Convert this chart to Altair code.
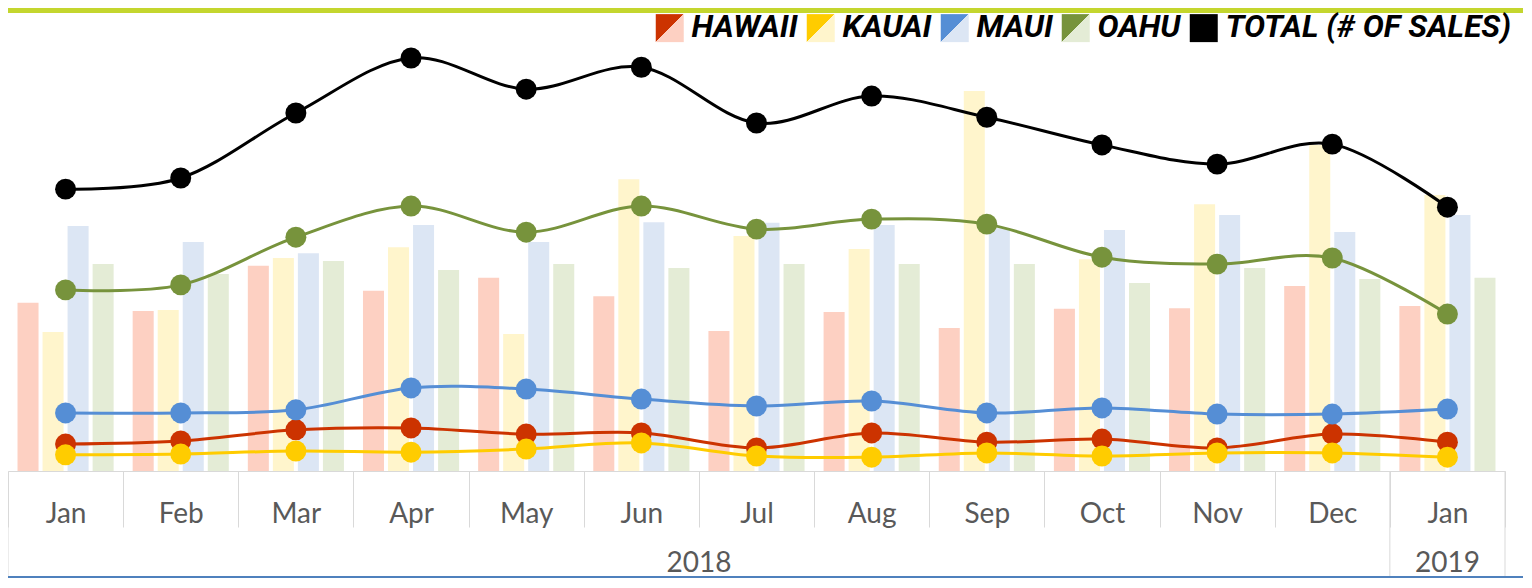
import altair as alt
import pandas as pd

# ---------------- data ----------------
periods = ["Jan 2018", "Feb 2018", "Mar 2018", "Apr 2018", "May 2018", "Jun 2018",
           "Jul 2018", "Aug 2018", "Sep 2018", "Oct 2018", "Nov 2018", "Dec 2018",
           "Jan 2019"]
island_names = ["HAWAII", "KAUAI", "MAUI", "OAHU"]
total_label = "TOTAL (# OF SALES)"
series_codes = ["H", "K", "M", "O", "T"]

# bars (median price, $K)
price_hawaii = [477, 454, 582, 511, 548, 496, 397, 451, 406, 460, 462, 525, 468]
price_kauai = [394, 457, 604, 635, 389, 828, 667, 630, 1078, 601, 757, 925, 783]
price_maui = [695, 650, 618, 698, 650, 706, 704, 698, 689, 684, 726, 678, 726]
price_oahu = [587, 559, 596, 570, 587, 576, 587, 587, 587, 533, 576, 545, 548]

# lines (number of sales)
sales_hawaii = [70, 78, 107, 112, 96, 99, 60, 99, 75, 83, 60, 96, 75]
sales_kauai = [42, 44, 52, 49, 57, 73, 39, 36, 47, 39, 47, 47, 36]
sales_maui = [151, 151, 159, 216, 213, 187, 169, 182, 151, 164, 148, 148, 161]
sales_oahu = [471, 484, 608, 689, 621, 689, 629, 655, 642, 556, 538, 554, 408]
sales_total = [733, 762, 931, 1074, 993, 1050, 905, 975, 920, 848, 798, 850, 686]

dark_colors = ["#CC3300", "#FFCC00", "#558ED5", "#77933C", "#000000"]
light_colors = ["#FDD0C2", "#FFF5CC", "#DCE6F4", "#E4ECD6", "#000000"]

# ---------------- tables ----------------
series_names = island_names + [total_label]
price_series = [price_hawaii, price_kauai, price_maui, price_oahu]
bar_rows = []
for name, vals in zip(island_names, price_series):
    for p, v in zip(periods, vals):
        bar_rows.append({"period": p, "island": name, "price": v})
bar_df = pd.DataFrame(bar_rows)

sales_series = [sales_hawaii, sales_kauai, sales_maui, sales_oahu, sales_total]
line_rows = []
for name, code, vals in zip(series_names, series_codes, sales_series):
    for p, v in zip(periods, vals):
        line_rows.append({"period": p, "series": name, "code": code, "sales": v})
line_df = pd.DataFrame(line_rows)

W, H = 1497, 423
BOTTOM = 107
RIGHT = 18

x_scale = alt.Scale(domain=periods, paddingInner=0, paddingOuter=0)
x_axis = alt.Axis(title=None,
                  labelExpr="isValid(datum.value) ? split(datum.value, ' ')[0] : ''",
                  labelAngle=0, labelFont="Lato", labelFontSize=28, labelColor="#595959",
                  labelBaseline="alphabetic", labelPadding=-5,
                  tickBand="extent", tickSize=56, tickColor="#D9D9D9", tickWidth=1,
                  domainColor="#D9D9D9", domainWidth=1, grid=False)


def xenc(**kw):
    return alt.X("period:N", scale=x_scale, axis=x_axis, **kw)


def pick(values):
    expr = "'%s'" % values[-1]
    for code, v in reversed(list(zip(series_codes[:-1], values[:-1]))):
        expr = "(datum.value == '%s' ? '%s' : %s)" % (code, v, expr)
    return expr


D = pick(dark_colors)
L = pick(light_colors)
gradient_expr = ("{gradient: 'linear', x1: 0, y1: 0, x2: 1, y2: 1, stops: ["
                 "{offset: 0, color: %s}, {offset: 0.5, color: %s}, "
                 "{offset: 0.5, color: %s}, {offset: 1, color: %s}]}" % (D, D, L, L))

legend = alt.Legend(orient="none", legendX=646, legendY=-36, direction="horizontal",
                    title=None, symbolType="square", symbolSize=784, symbolStrokeWidth=0,
                    symbolFillColor=alt.ExprRef(expr=gradient_expr),
                    labelExpr=pick(series_names),
                    labelFont="Roboto", labelFontSize=31.5, labelFontStyle="italic",
                    labelFontWeight="bold", labelColor="black", labelOffset=6,
                    columnPadding=7, labelLimit=400, padding=0)

bars = alt.Chart(bar_df).mark_bar().encode(
    x=xenc(),
    xOffset=alt.XOffset("island:N", scale=alt.Scale(domain=island_names, paddingInner=0.16, paddingOuter=0.38)),
    y=alt.Y("price:Q", scale=alt.Scale(domain=[0, 1200], nice=False, zero=True), axis=None),
    color=alt.Color("island:N", scale=alt.Scale(domain=island_names, range=light_colors[:4]), legend=None),
)

y_sales = alt.Y("sales:Q", scale=alt.Scale(domain=[0, 1100], nice=False, zero=True), axis=None)

lines = alt.Chart(line_df).mark_line(interpolate="cardinal", strokeWidth=3).encode(
    x=xenc(),
    y=y_sales,
    stroke=alt.Stroke("series:N", scale=alt.Scale(domain=series_names, range=dark_colors), legend=None),
)

points = alt.Chart(line_df).mark_point(filled=True, size=440).encode(
    x=xenc(),
    y=y_sales,
    fill=alt.Fill("series:N", scale=alt.Scale(domain=series_names, range=dark_colors), legend=None),
    opacity=alt.Opacity("code:N", scale=alt.Scale(domain=series_codes, range=[1, 1, 1, 1, 1]),
                        legend=legend),
)

sep_df = pd.DataFrame({"period": ["Jan 2018", "Jan 2019"]})
year_seps = alt.Chart(sep_df).mark_rule(color="#D9D9D9", strokeWidth=1).encode(
    x=xenc(bandPosition=0), y=alt.value(H), y2=alt.value(H + BOTTOM))
end_df = pd.DataFrame({"period": ["Jan 2019"]})
end_sep = alt.Chart(end_df).mark_rule(color="#D9D9D9", strokeWidth=1).encode(
    x=xenc(bandPosition=1), y=alt.value(H), y2=alt.value(H + BOTTOM))

y2018 = alt.Chart(pd.DataFrame({"period": ["Jul 2018"], "label": ["2018"]})).mark_text(
    font="Lato", fontSize=28, color="#595959", align="center", baseline="alphabetic").encode(
    x=xenc(bandPosition=0), y=alt.value(H + 101), text="label:N")
y2019 = alt.Chart(pd.DataFrame({"period": ["Jan 2019"], "label": ["2019"]})).mark_text(
    font="Lato", fontSize=28, color="#595959", align="center", baseline="alphabetic").encode(
    x=xenc(bandPosition=0.5), y=alt.value(H + 101), text="label:N")

one = pd.DataFrame({"k": [0]})
stripe = alt.Chart(one).mark_rule(color="#C4D62E", strokeWidth=5).encode(
    x=alt.value(0), x2=alt.value(W + RIGHT), y=alt.value(-37.5))
bottom_line = alt.Chart(one).mark_rule(color="#4F81BD", strokeWidth=2).encode(
    x=alt.value(0), x2=alt.value(W + RIGHT), y=alt.value(H + 106))

chart = alt.layer(bars, lines, points, year_seps, end_sep, y2018, y2019, stripe, bottom_line).resolve_scale(
    y="independent"
).properties(
    width=W, height=H,
    autosize=alt.AutoSizeParams(type="none"),
    padding={"left": 0, "top": 40, "right": RIGHT, "bottom": BOTTOM},
    background="white",
).configure_view(stroke=None)

chart.save("out.html", embed_options={"renderer": "svg", "actions": False})
